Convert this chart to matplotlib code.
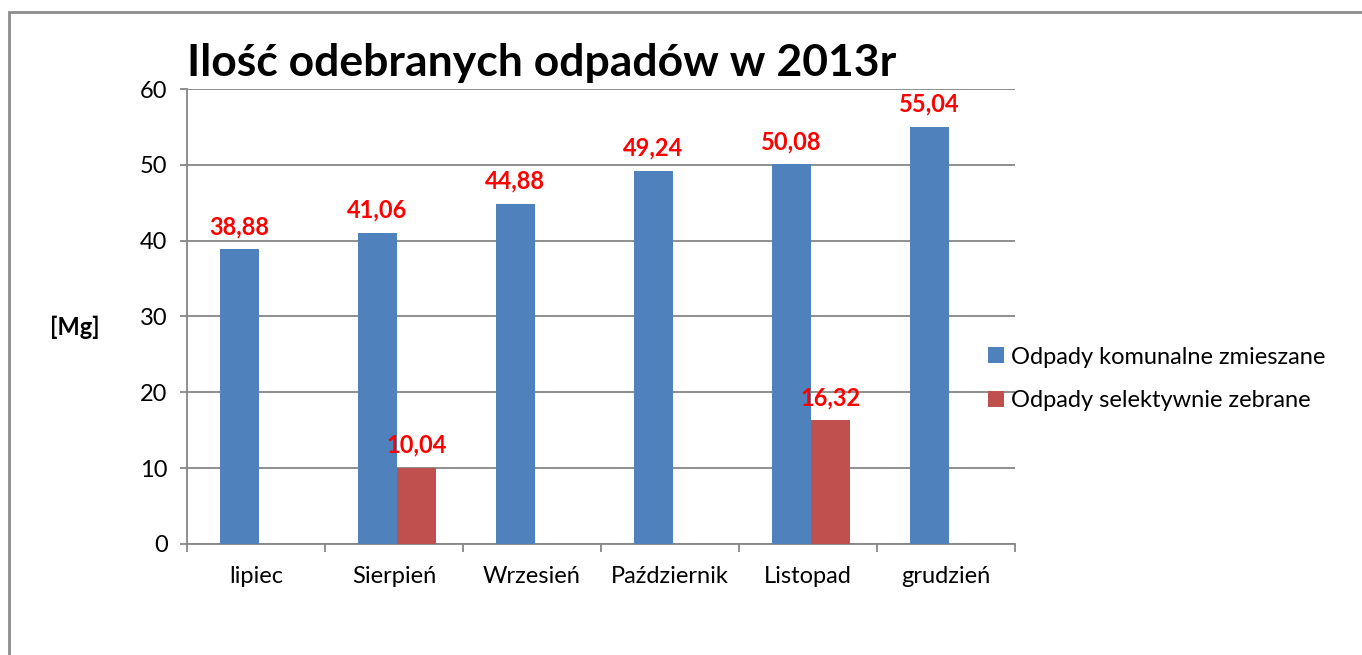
import numpy as np
import matplotlib
matplotlib.use("Agg")
import matplotlib.pyplot as plt
from matplotlib.patches import Rectangle
from matplotlib.ticker import FixedLocator

plt.rcParams['font.family'] = ['Lato', 'DejaVu Sans']

# -- Data --
months = ["lipiec", "Sierpień", "Wrzesień", "Październik", "Listopad", "grudzień"]
mixed = [38.88, 41.06, 44.88, 49.24, 50.08, 55.04]
selective = [np.nan, 10.04, np.nan, np.nan, 16.32, np.nan]
series_names = ["Odpady komunalne zmieszane", "Odpady selektywnie zebrane"]
title = "Ilość odebranych odpadów w 2013r"
y_ticks = [0, 10, 20, 30, 40, 50, 60]

BLUE = "#4F81BD"
RED = "#C0504D"
GRID = "#868686"
FS = 17

fig = plt.figure(figsize=(13.62, 6.55), dpi=100)
ax = fig.add_axes([0.1373, 0.1695, 0.6079, 0.6946])

# outer chart border (runs off the right and bottom edge)
fig.patches.append(Rectangle((9/1362, -0.1), 1.2, 1.1 - 12/655,
                             transform=fig.transFigure, fill=False,
                             edgecolor="#8c8c8c", linewidth=2))

x = np.arange(len(months))
w = 0.283
shift = 0.02  # Excel puts the bar group slightly right of centre
b1 = ax.bar(x - w/2 + shift, mixed, w, color=BLUE, label=series_names[0], zorder=3)
b2 = ax.bar(x + w/2 + shift, selective, w, color=RED, label=series_names[1], zorder=3)

for bars, vals in ((b1, mixed), (b2, selective)):
    for rect, v in zip(bars, vals):
        if np.isnan(v):
            continue
        ax.annotate(f"{v:.2f}".replace(".", ","),
                    (rect.get_x() + rect.get_width()/2, v),
                    xytext=(0, 8), textcoords="offset points",
                    ha="center", va="bottom", color="red",
                    fontsize=FS, fontweight="bold")

ax.set_xlim(-0.5, len(months) - 0.5)
ax.set_ylim(0, 60)
ax.set_yticks(y_ticks)
ax.set_xticks(x)
ax.set_xticklabels(months)
ax.xaxis.set_minor_locator(FixedLocator(np.arange(-0.5, len(months), 1.0)))
ax.tick_params(axis="x", which="major", length=0, pad=16, labelsize=FS)
ax.tick_params(axis="x", which="minor", length=6, width=1.3, color=GRID)
ax.tick_params(axis="y", length=5, width=1.3, color=GRID, pad=9, labelsize=FS)

ax.yaxis.grid(True, color=GRID, linewidth=1.3, zorder=0)
ax.set_axisbelow(True)
for s in ("top", "right"):
    ax.spines[s].set_visible(False)
for s in ("left", "bottom"):
    ax.spines[s].set_color(GRID)
    ax.spines[s].set_linewidth(1.3)

fig.text(75/1362, 1 - 327/655, "[Mg]", fontsize=FS, fontweight="bold",
         ha="center", va="center")
fig.text(187/1362, 1 - 63/655, title, fontsize=32, fontweight="bold",
         ha="left", va="center")

ax.legend(loc="center left", bbox_to_anchor=(0.968, 0.363), frameon=False,
          fontsize=FS, handlelength=0.65, handleheight=0.65, handletextpad=0.3,
          labelspacing=0.95, borderaxespad=0, borderpad=0)

fig.savefig("out.png", dpi=100)
